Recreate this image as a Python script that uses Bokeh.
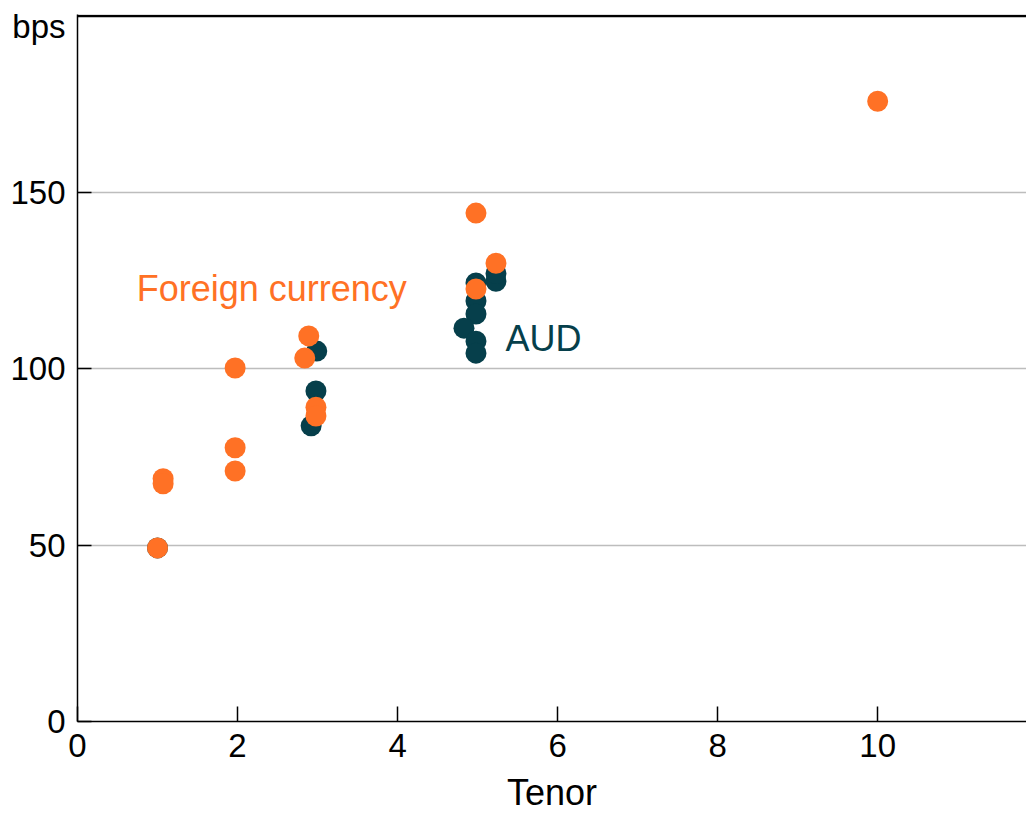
from bokeh.plotting import figure
from bokeh.models import FixedTicker, Label, Span, Range1d
from bokeh.embed import file_html
from bokeh.resources import INLINE

# AUD-denominated issuance: tenor (years) and spread (bps)
aud_tenor = [1.0, 2.99, 2.98, 2.92, 4.98, 4.98, 4.98, 4.83, 4.98, 4.98, 5.23, 5.23]
aud_spread = [49.2, 105.0, 93.7, 83.8, 124.3, 119.2, 115.5, 111.5, 107.8, 104.4, 124.8, 127.0]

# Foreign-currency issuance
fc_tenor = [1.0, 1.07, 1.07, 1.97, 1.97, 1.97, 2.89, 2.84, 2.98, 2.98, 4.98, 4.98, 5.23, 10.0]
fc_spread = [49.2, 68.8, 67.4, 100.2, 77.6, 71.0, 109.3, 103.0, 89.1, 86.6, 144.1, 122.6, 129.9, 175.8]

x_ticks = [0, 2, 4, 6, 8, 10]
y_ticks = [0, 50, 100, 150]
unit_label = "bps"
unit_pos = 197

ORANGE = "#FF7125"
DARK = "#063F4B"
FONT = "Liberation Sans"

p = figure(width=1026, height=816, output_backend="svg", toolbar_location=None,
           x_range=Range1d(0, 11.86), y_range=Range1d(0, 200.4),
           min_border_left=77, min_border_right=0, min_border_top=14, min_border_bottom=95)
p.outline_line_color = None
p.background_fill_color = "white"
p.border_fill_color = "white"

p.xgrid.grid_line_color = None
p.ygrid.grid_line_color = "#BDBDBD"
p.ygrid.grid_line_width = 1.5
p.ygrid.ticker = FixedTicker(ticks=y_ticks)

for ax in (p.xaxis[0], p.yaxis[0]):
    ax.axis_line_color = "black"
    ax.axis_line_width = 1.5
    ax.major_tick_line_color = "black"
    ax.major_tick_line_width = 1.5
    ax.major_tick_out = 0
    ax.minor_tick_line_color = None
    ax.major_label_text_font = FONT
    ax.major_label_text_font_size = "33px"
    ax.major_label_text_color = "black"

p.xaxis.ticker = FixedTicker(ticks=x_ticks)
p.xaxis.major_tick_in = 15
p.xaxis.major_label_standoff = 12
p.xaxis.axis_label = "Tenor"
p.xaxis.axis_label_text_font = FONT
p.xaxis.axis_label_text_font_size = "36px"
p.xaxis.axis_label_text_font_style = "normal"
p.xaxis.axis_label_text_color = "black"
p.xaxis.axis_label_standoff = 12

# y axis: labels on major ticks (incl. the unit label), tick marks drawn as minor ticks
p.yaxis.ticker = FixedTicker(ticks=y_ticks + [unit_pos], minor_ticks=y_ticks)
p.yaxis.major_label_overrides = {unit_pos: unit_label}
p.yaxis.major_tick_line_color = None
p.yaxis.minor_tick_line_color = "black"
p.yaxis.minor_tick_line_width = 1.5
p.yaxis.minor_tick_in = 14
p.yaxis.minor_tick_out = 0
p.yaxis.major_label_standoff = 12

p.add_layout(Span(location=200, dimension="width", line_color="black", line_width=2.5))

p.scatter(aud_tenor, aud_spread, size=21, fill_color=DARK, line_color=None)
p.scatter(fc_tenor, fc_spread, size=21, fill_color=ORANGE, line_color=None)

p.add_layout(Label(x=0.74, y=122.6, text="Foreign currency", text_color=ORANGE,
                   text_font=FONT, text_font_size="36px", text_baseline="middle"))
p.add_layout(Label(x=5.35, y=108.7, text="AUD", text_color=DARK,
                   text_font=FONT, text_font_size="36px", text_baseline="middle"))

open("out.html", "w").write(file_html(p, INLINE))
